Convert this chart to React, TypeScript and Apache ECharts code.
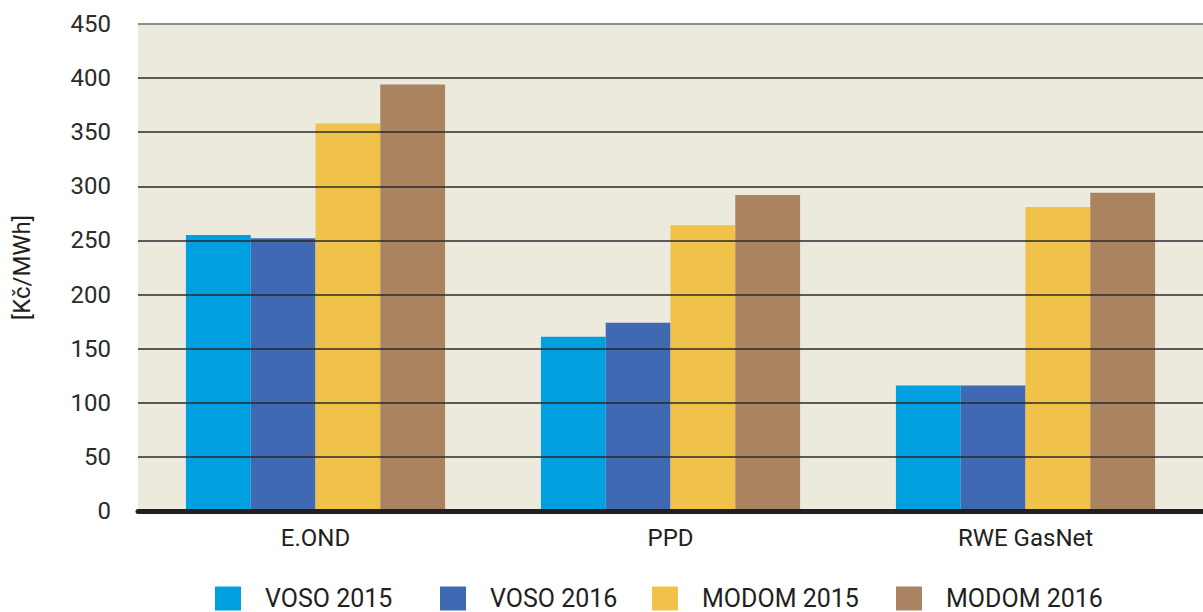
import React, { useEffect, useRef } from "react";
import * as echarts from "echarts";

const categories = ["E.OND", "PPD", "RWE GasNet"];
const seriesNames = ["VOSO 2015", "VOSO 2016", "MODOM 2015", "MODOM 2016"];
const voso2015 = [255, 161, 116];
const voso2016 = [252, 174, 116];
const modom2015 = [358, 264, 281];
const modom2016 = [394, 292, 294];
const colors = ["#009FDF", "#3F69B2", "#F1C24A", "#AA8360"];
const yTicks = { min: 0, max: 450, interval: 50 };
const legendLefts = [215, 440, 652, 896];

export default function App() {
  const ref = useRef<HTMLDivElement>(null);
  useEffect(() => {
    if (!ref.current) return;
    const chart = echarts.init(ref.current, null, { renderer: "svg" });
    const data = [voso2015, voso2016, modom2015, modom2016];
    const font = "Roboto, 'DejaVu Sans', sans-serif";
    const lineColors = [
      "#2a2a2a", "#2a2a2a", "#2a2a2a", "#2a2a2a", "#2a2a2a",
      "#2a2a2a", "#2a2a2a", "#2a2a2a", "#2a2a2a", "#6b6b6b",
    ];
    chart.setOption({
      animation: false,
      textStyle: { fontFamily: font },
      grid: {
        left: 138,
        right: -3,
        top: 24,
        bottom: 101,
        show: true,
        backgroundColor: "#ECE9DD",
        borderWidth: 0,
      },
      legend: seriesNames.map((n, i) => ({
        left: legendLefts[i],
        top: 586,
        padding: 0,
        icon: "rect",
        itemWidth: 26,
        itemHeight: 24,
        data: [n],
        textStyle: {
          fontSize: 25,
          color: "#231F20",
          fontFamily: font,
          padding: [0, 0, 0, 19],
        },
      })),
      xAxis: {
        type: "category",
        data: categories,
        axisTick: { show: false },
        axisLine: { lineStyle: { color: "#231F20", width: 5 } },
        axisLabel: { fontSize: 24, color: "#231F20", margin: 15, fontFamily: font },
        z: 10,
      },
      yAxis: {
        type: "value",
        min: yTicks.min,
        max: yTicks.max,
        interval: yTicks.interval,
        name: "[Kč/MWh]",
        nameLocation: "middle",
        nameGap: 104,
        nameTextStyle: { fontSize: 24, color: "#231F20", fontFamily: font },
        axisLine: { show: false },
        axisTick: { show: false },
        axisLabel: { fontSize: 24, color: "#2b2b2b", margin: 27, fontFamily: font },
        splitLine: { show: true, lineStyle: { color: lineColors, width: 1.7 } },
        z: 5,
      },
      series: data.map((d, i) => ({
        name: seriesNames[i],
        type: "bar",
        data: d,
        barGap: "0%",
        barCategoryGap: "27%",
        itemStyle: { color: colors[i] },
        z: 2,
      })),
    });
    return () => chart.dispose();
  }, []);
  return (
    <div
      ref={ref}
      style={{ position: "fixed", left: 0, top: 0, width: 1203, height: 612, background: "#fff" }}
    />
  );
}
